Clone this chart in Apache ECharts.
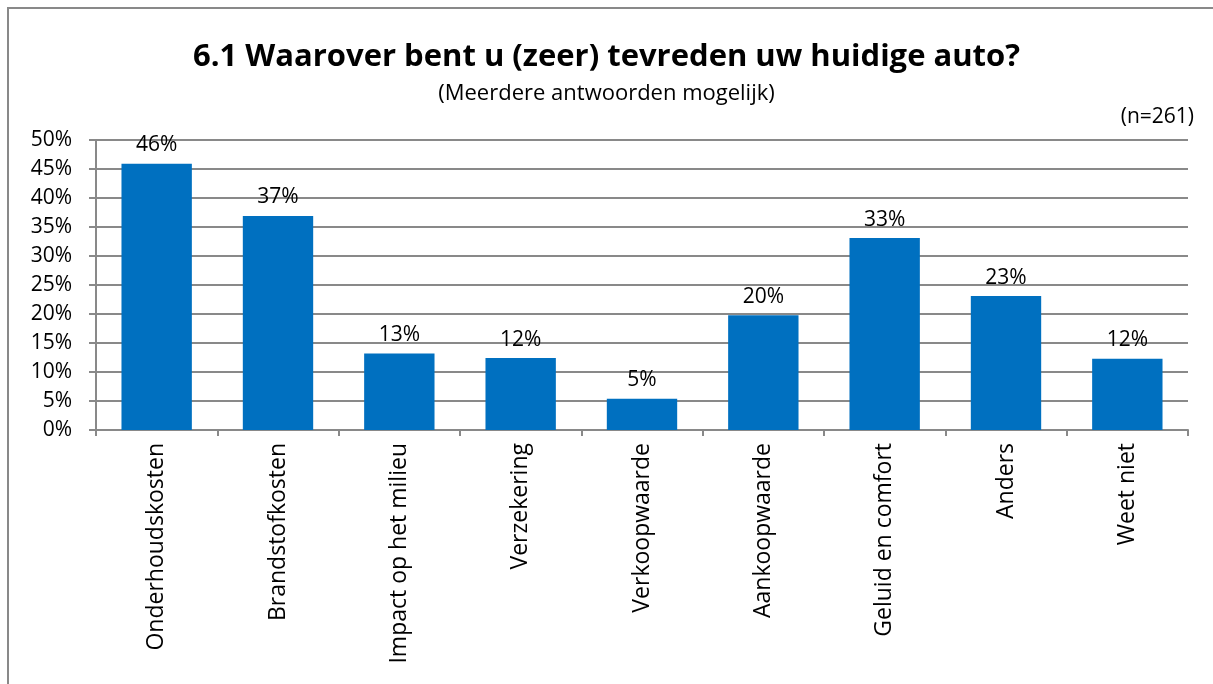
<!DOCTYPE html>
<html>
<head>
<meta charset="utf-8">
<script src="https://cdn.jsdelivr.net/npm/echarts@6/dist/echarts.min.js"></script>
<style>
  html, body { margin: 0; padding: 0; background: #fff; }
  #chart { width: 1213px; height: 684px; }
</style>
</head>
<body>
<div id="chart"></div>
<script>
const categories = ['Onderhoudskosten', 'Brandstofkosten', 'Impact op het milieu', 'Verzekering',
  'Verkoopwaarde', 'Aankoopwaarde', 'Geluid en comfort', 'Anders', 'Weet niet']
const percentages = [45.9, 36.9, 13.2, 12.4, 5.4, 19.8, 33.1, 23.1, 12.3]
const yTicks = [0, 5, 10, 15, 20, 25, 30, 35, 40, 45, 50]

const font = 'Open Sans, sans-serif'
const myChart = echarts.init(document.getElementById('chart'))

myChart.setOption({
  animation: false,
  textStyle: { fontFamily: font },
  title: [
    {
      text: '6.1 Waarover bent u (zeer) tevreden uw huidige auto?',
      left: 'center',
      top: 37,
      textStyle: { fontSize: 31, fontWeight: 'bold', color: '#000', fontFamily: font },
    },
    {
      text: '(Meerdere antwoorden mogelijk)',
      left: 'center',
      top: 78,
      textStyle: { fontSize: 22, fontWeight: 'normal', color: '#000', fontFamily: font },
    },
    {
      text: '(n=261)',
      right: 14,
      top: 102,
      textStyle: { fontSize: 21, fontWeight: 'normal', color: '#000', fontFamily: font },
    },
  ],
  graphic: [
    {
      type: 'polyline',
      shape: { points: [[8, 684], [8, 8], [1213, 8]] },
      style: { stroke: '#898989', lineWidth: 2, fill: null },
    },
  ],
  grid: { left: 96, right: 25, top: 140, bottom: 254 },
  xAxis: {
    type: 'category',
    data: categories,
    axisLine: { lineStyle: { color: '#898989', width: 2 } },
    axisTick: { show: true, length: 6, lineStyle: { color: '#898989', width: 2 } },
    axisLabel: { rotate: 90, color: '#000', fontSize: 23, margin: 13, fontFamily: font },
  },
  yAxis: {
    type: 'value',
    min: 0,
    max: 50,
    interval: 5,
    axisLine: { show: true, lineStyle: { color: '#898989', width: 2 } },
    axisTick: { show: true, length: 7, lineStyle: { color: '#898989', width: 2 } },
    splitLine: { lineStyle: { color: '#898989', width: 2 } },
    axisLabel: {
      color: '#000',
      fontSize: 21,
      margin: 24,
      fontFamily: font,
      formatter: (v) => (yTicks.includes(v) ? v + '%' : ''),
    },
  },
  series: [
    {
      type: 'bar',
      data: percentages,
      barWidth: '58%',
      itemStyle: { color: '#0070C0' },
      label: {
        show: true,
        position: 'top',
        distance: 8,
        color: '#000',
        fontSize: 21,
        fontFamily: font,
        formatter: (p) => Math.round(p.value) + '%',
      },
    },
  ],
})
</script>
</body>
</html>
